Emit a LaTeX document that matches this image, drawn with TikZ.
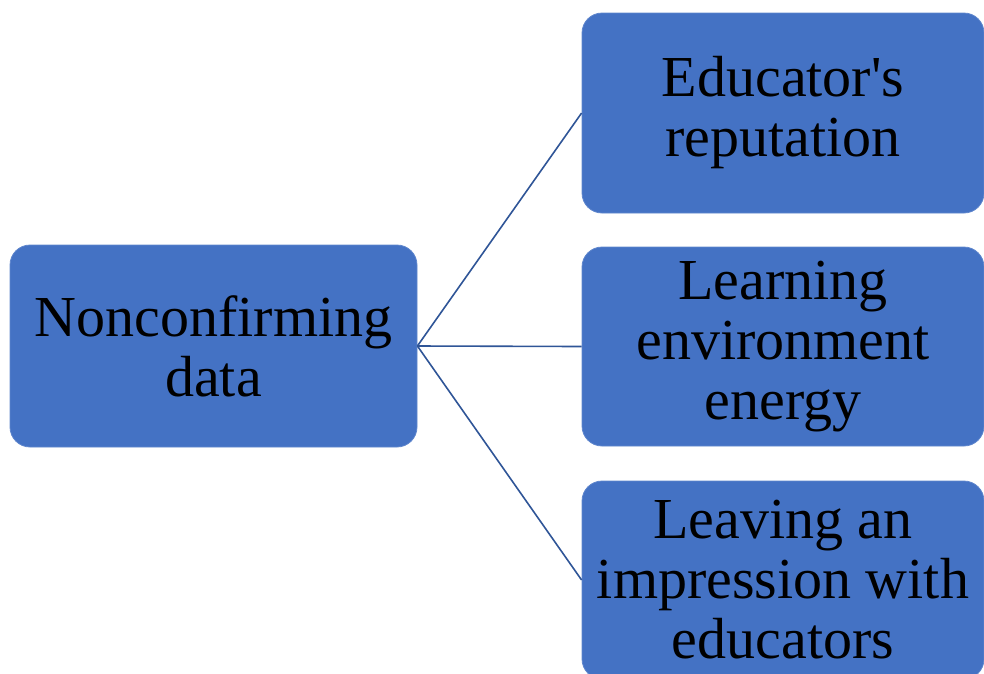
\documentclass[tikz,border=0pt]{standalone}
\usepackage{fontspec}
\setmainfont{Liberation Serif}[Ligatures=TeXOff]
\usepackage{tikz}
\definecolor{boxblue}{HTML}{4472C4}
\definecolor{linkblue}{HTML}{2F5597}
\tikzset{
  ideabox/.style={rectangle, rounded corners=20pt, fill=boxblue, draw=boxblue!85!white, line width=0.8pt,
    align=center, inner sep=0pt, font=\fontsize{58}{60}\selectfont},
  link/.style={draw=linkblue, line width=1.6pt}
}
\newcommand{\ideanode}[5] {\node at (#1) (#2) [ideabox, minimum width=#3, minimum height=#4] {#5};}
\newcommand{\ideaedge}[2] {\draw [link] (#1.east) -- (#2.west);}

\begin{document}
\begin{tikzpicture}[x=1pt, y=1pt]
\useasboundingbox (0,0) rectangle (984,-673);

\ideanode {213.5,-346} {data} {407pt} {202pt} {Nonconfirming\\data};
\ideanode {783,-113} {rep} {402pt} {200pt} {Educator's\\reputation};
\ideanode {783,-346.5} {energy} {402pt} {199pt} {Learning\\environment\\energy};
\ideanode {783,-580} {impr} {402pt} {198pt} {Leaving an\\impression with\\educators};

\ideaedge {data}{rep};
\ideaedge {data}{energy};
\ideaedge {data}{impr};

\end{tikzpicture}
\end{document}
